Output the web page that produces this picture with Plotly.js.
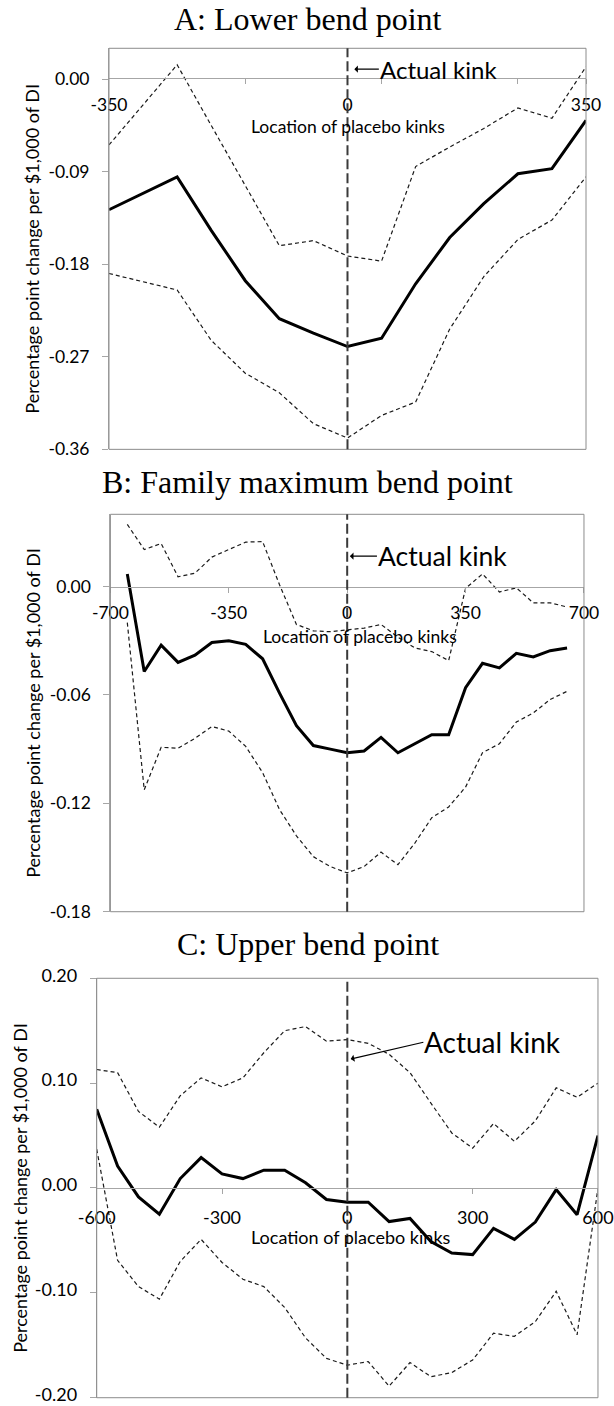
<!DOCTYPE html>
<html>
<head>
<meta charset="utf-8">
<script src="https://cdn.plot.ly/plotly-3.0.1.min.js"></script>
<style>
  html, body { margin: 0; padding: 0; background: #ffffff; }
  #chart { width: 614px; height: 1406px; }
</style>
</head>
<body>
<div id="chart"></div>
<script>
// ---------- DATA ----------
const panelTitles = ["A: Lower bend point", "B: Family maximum bend point", "C: Upper bend point"];
const xAxisTitle = "Location of placebo kinks";
const yAxisTitle = "Percentage point change per $1,000 of DI";
const kinkLabel = "Actual kink";
const kinkLocation = 0;

// Panel A: lower bend point
const xA = [-350, -250, -200, -150, -100, -50, 0, 50, 100, 150, 200, 250, 300, 350];
const estA = [-0.127, -0.095, -0.147, -0.196, -0.233, -0.247, -0.260, -0.252, -0.199, -0.154, -0.121, -0.092, -0.087, -0.040];
const upA  = [-0.064, 0.014, -0.045, -0.104, -0.162, -0.157, -0.172, -0.177, -0.085, -0.066, -0.048, -0.028, -0.038, 0.012];
const loA  = [-0.189, -0.205, -0.254, -0.286, -0.305, -0.335, -0.349, -0.327, -0.314, -0.243, -0.192, -0.156, -0.137, -0.095];
const xTickValsA = [-350, -150, 0, 50, 250, 350];
const xTickTextA = ["-350", "", "0", "", "", "350"];
const yTickValsA = [-0.36, -0.27, -0.18, -0.09, 0];
const yTickTextA = ["-0.36", "-0.27", "-0.18", "-0.09", "0.00"];

// Panel B: family maximum bend point
const xB = [-650, -600, -550, -500, -450, -400, -350, -300, -250, -200, -150, -100, -50, 0, 50, 100, 150, 200, 250, 300, 350, 400, 450, 500, 550, 600, 650];
const estB = [0.007, -0.047, -0.0325, -0.042, -0.038, -0.031, -0.030, -0.032, -0.040, -0.059, -0.077, -0.088, -0.090, -0.092, -0.091, -0.0835, -0.092, -0.087, -0.082, -0.082, -0.056, -0.0425, -0.045, -0.037, -0.039, -0.0355, -0.034];
const upB  = [0.0344, 0.0205, 0.0238, 0.0054, 0.0074, 0.0163, 0.0205, 0.0246, 0.0249, 0.001, -0.021, -0.0245, -0.025, -0.024, -0.023, -0.021, -0.028, -0.034, -0.036, -0.041, -0.001, 0.007, -0.003, -0.0007, -0.009, -0.009, -0.0113];
const loB  = [-0.020, -0.1125, -0.089, -0.0895, -0.084, -0.0775, -0.080, -0.0885, -0.103, -0.1235, -0.138, -0.1495, -0.155, -0.1585, -0.155, -0.147, -0.154, -0.142, -0.128, -0.122, -0.111, -0.092, -0.087, -0.075, -0.070, -0.0625, -0.058];
const xTickValsB = [-700, -350, 0, 350, 700];
const xTickTextB = ["-700", "-350", "0", "350", "700"];
const yTickValsB = [-0.18, -0.12, -0.06, 0];
const yTickTextB = ["-0.18", "-0.12", "-0.06", "0.00"];

// Panel C: upper bend point
const xC = [-600, -550, -500, -450, -400, -350, -300, -250, -200, -150, -100, -50, 0, 50, 100, 150, 200, 250, 300, 350, 400, 450, 500, 550, 600];
const estC = [0.075, 0.021, -0.0085, -0.025, 0.009, 0.029, 0.0135, 0.009, 0.017, 0.017, 0.005, -0.011, -0.0135, -0.0135, -0.032, -0.029, -0.051, -0.062, -0.0635, -0.0385, -0.049, -0.0325, -0.0015, -0.0255, 0.050];
const upC  = [0.113, 0.110, 0.073, 0.058, 0.088, 0.105, 0.0965, 0.105, 0.129, 0.150, 0.154, 0.140, 0.1415, 0.138, 0.1275, 0.110, 0.081, 0.0525, 0.038, 0.0615, 0.0445, 0.064, 0.0955, 0.0865, 0.100];
const loC  = [0.037, -0.069, -0.094, -0.106, -0.070, -0.049, -0.071, -0.087, -0.094, -0.114, -0.143, -0.1625, -0.169, -0.1655, -0.189, -0.1665, -0.180, -0.176, -0.164, -0.1385, -0.1415, -0.1275, -0.0985, -0.140, 0.000];
const xTickValsC = [-600, -300, 0, 300, 600];
const xTickTextC = ["-600", "-300", "0", "300", "600"];
const yTickValsC = [-0.2, -0.1, 0, 0.1, 0.2];
const yTickTextC = ["-0.20", "-0.10", "0.00", "0.10", "0.20"];

// ---------- STYLE ----------
const axisGrey = "#a6a6a6";
const frameGrey = "#8c8c8c";
const sansFont = "Lato, 'Open Sans', sans-serif";
const serifFont = "'Liberation Serif', 'Times New Roman', serif";

const panels = [
  { x: xA, est: estA, up: upA, lo: loA, xs: "x", ys: "y",
    xdom: [0.1775, 0.9544], ydom: [0.6804, 0.96565], xrange: [-350, 350], yrange: [-0.36, 0.03],
    xpos: 0.9443, xtv: xTickValsA, xtt: xTickTextA, ytv: yTickValsA, ytt: yTickTextA,
    tickSize: 17.5, xLabStand: 6, yTitleStand: 4, yLabShift: 0,
    xTitle: { x: 0.501, y: 0.91038, size: 17.5 },
    kink: { tipX: 10, tipY: 0.0097, tailX: 46, tailY: 0.0097, size: 24 },
    titleY: 0.98684 },
  { x: xB, est: estB, up: upB, lo: loB, xs: "x2", ys: "y2",
    xdom: [0.1798, 0.9511], ydom: [0.35156, 0.63421], xrange: [-700, 700], yrange: [-0.18, 0.04],
    xpos: 0.5825, xtv: xTickValsB, xtt: xTickTextB, ytv: yTickValsB, ytt: yTickTextB,
    tickSize: 17.5, xLabStand: 5, yTitleStand: 4, yLabShift: 0,
    xTitle: { x: 0.527, y: 0.54765, size: 17.5 },
    kink: { tipX: 8, tipY: 0.0168, tailX: 88, tailY: 0.0168, size: 26.5 },
    titleY: 0.65733 },
  { x: xC, est: estC, up: upC, lo: loC, xs: "x3", ys: "y3",
    xdom: [0.1575, 0.9739], ydom: [0.0059, 0.3042], xrange: [-600, 600], yrange: [-0.2, 0.2],
    xpos: 0.15484, xtv: xTickValsC, xtt: xTickTextC, ytv: yTickValsC, ytt: yTickTextC,
    tickSize: 18, xLabStand: 8, yTitleStand: 2, yLabShift: -3,
    xTitle: { x: 0.507, y: 0.12041, size: 18 },
    kink: { tipX: 8, tipY: 0.123, tailX: 182, tailY: 0.139, size: 28 },
    titleY: 0.32824 }
];

const data = [];
const layout = {
  width: 614, height: 1406,
  margin: { l: 0, r: 0, t: 0, b: 0 },
  paper_bgcolor: "#ffffff", plot_bgcolor: "#ffffff",
  showlegend: false,
  font: { family: sansFont, color: "#000000" },
  shapes: [], annotations: []
};

panels.forEach((p, i) => {
  const sfx = i === 0 ? "" : String(i + 1);
  // confidence bounds (dashed) and estimate (solid)
  [p.up, p.lo].forEach(series => {
    data.push({ type: "scatter", mode: "lines", x: p.x, y: series, xaxis: p.xs, yaxis: p.ys,
      line: { color: "#1a1a1a", width: 1.2, dash: "4px,3px" }, hoverinfo: "skip" });
  });
  data.push({ type: "scatter", mode: "lines", x: p.x, y: p.est, xaxis: p.xs, yaxis: p.ys,
    line: { color: "#000000", width: 3 }, hoverinfo: "skip" });

  layout["xaxis" + sfx] = {
    domain: p.xdom, range: p.xrange, anchor: "free", position: p.xpos,
    showline: true, linecolor: axisGrey, linewidth: 1,
    ticks: "outside", ticklen: 5, tickcolor: axisGrey, tickwidth: 1,
    tickmode: "array", tickvals: p.xtv, ticktext: p.xtt,
    ticklabelstandoff: p.xLabStand, ticklabeloverflow: "allow",
    tickfont: { family: sansFont, size: p.tickSize, color: "#000" },
    showgrid: false, zeroline: false, fixedrange: true
  };
  layout["yaxis" + sfx] = {
    domain: p.ydom, range: p.yrange, anchor: p.xs,
    showline: true, linecolor: axisGrey, linewidth: 1,
    ticks: "outside", ticklen: 6, tickcolor: axisGrey, tickwidth: 1,
    tickmode: "array", tickvals: p.ytv, ticktext: p.ytt,
    ticklabelstandoff: 9, ticklabelshift: p.yLabShift, ticklabeloverflow: "allow",
    tickfont: { family: sansFont, size: p.tickSize, color: "#000" },
    showgrid: false, zeroline: false, fixedrange: true,
    title: { text: yAxisTitle, font: { family: sansFont, size: 18, color: "#000" }, standoff: p.yTitleStand }
  };

  // plot-area frame
  layout.shapes.push({ type: "rect", xref: p.xs + " domain", yref: p.ys + " domain",
    x0: 0, x1: 1, y0: 0, y1: 1, line: { color: frameGrey, width: 1 }, fillcolor: "rgba(0,0,0,0)" });
  // actual kink vertical line
  layout.shapes.push({ type: "line", xref: p.xs, yref: p.ys + " domain",
    x0: kinkLocation, x1: kinkLocation, y0: 0, y1: 1,
    line: { color: "#3a3a3a", width: 2, dash: "10px,4px" } });

  // panel title
  layout.annotations.push({ xref: "paper", yref: "paper", x: 0.5016, y: p.titleY,
    xanchor: "center", yanchor: "middle", showarrow: false, text: panelTitles[i],
    font: { family: serifFont, size: 32, color: "#000" } });
  // x-axis title (placed just under the tick labels, as in the original)
  layout.annotations.push({ xref: p.xs + " domain", yref: "paper", x: p.xTitle.x, y: p.xTitle.y,
    xanchor: "center", yanchor: "middle", showarrow: false, text: xAxisTitle,
    font: { family: sansFont, size: p.xTitle.size, color: "#000" } });
  // Actual kink label with arrow
  layout.annotations.push({ xref: p.xs, yref: p.ys, x: p.kink.tipX, y: p.kink.tipY,
    axref: p.xs, ayref: p.ys, ax: p.kink.tailX, ay: p.kink.tailY,
    xanchor: "left", yanchor: "middle", showarrow: true, arrowhead: 1, arrowsize: 1,
    arrowwidth: 1.2, arrowcolor: "#000", borderpad: 0, text: kinkLabel,
    font: { family: sansFont, size: p.kink.size, color: "#000" } });
});

Plotly.newPlot("chart", data, layout, { staticPlot: true, displayModeBar: false });
</script>
</body>
</html>
